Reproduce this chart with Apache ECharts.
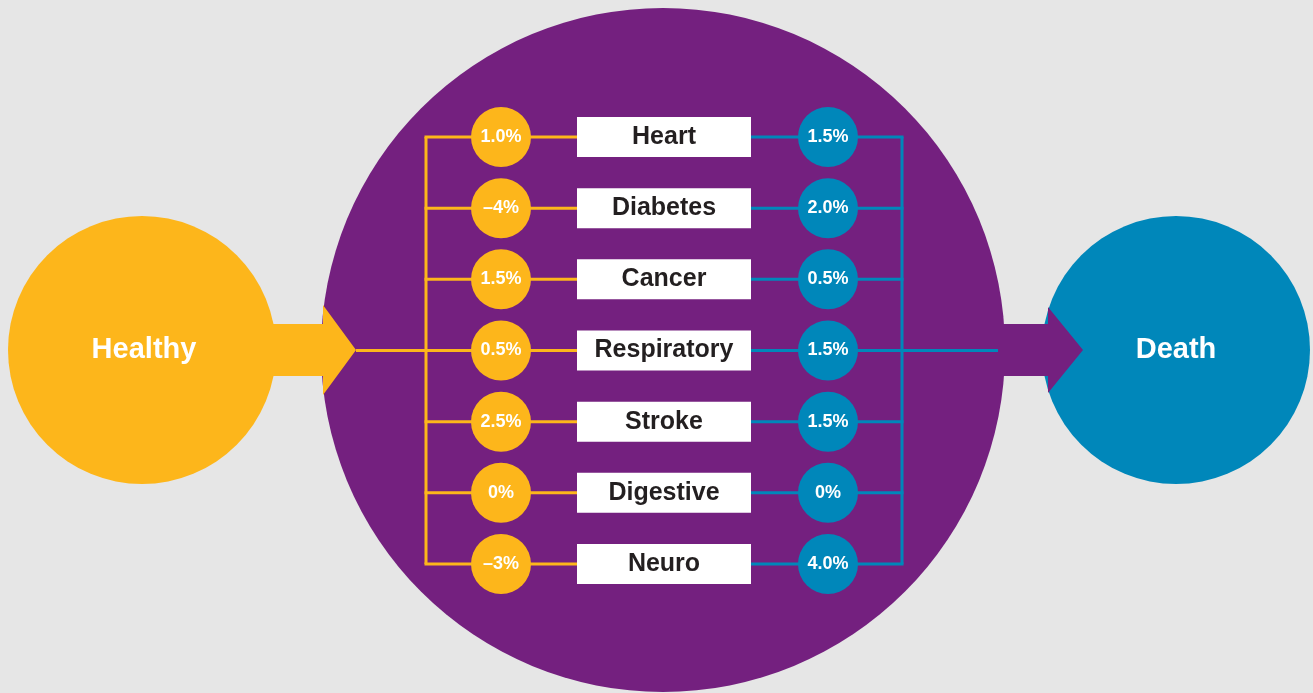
<!DOCTYPE html>
<html>
<head>
<meta charset="utf-8">
<style>
  html, body { margin: 0; padding: 0; background: #e6e6e6; }
  #chart { width: 1313px; height: 693px; }
</style>
<script src="https://cdn.jsdelivr.net/npm/echarts@6/dist/echarts.min.js"></script>
</head>
<body>
<div id="chart"></div>
<script>
// data
var causes = ['Heart', 'Diabetes', 'Cancer', 'Respiratory', 'Stroke', 'Digestive', 'Neuro'];
var healthyValues = [1.0, -4, 1.5, 0.5, 2.5, 0, -3];
var healthyText = ['1.0%', '–4%', '1.5%', '0.5%', '2.5%', '0%', '–3%'];
var deathValues = [1.5, 2.0, 0.5, 1.5, 1.5, 0, 4.0];
var deathText = ['1.5%', '2.0%', '0.5%', '1.5%', '1.5%', '0%', '4.0%'];

var YELLOW = '#fdb61b';
var PURPLE = '#74207f';
var BLUE = '#0087ba';
var DARK = '#231f20';
var FONT = '"Liberation Sans", Arial, sans-serif';

// column positions (layout)
var xYellowBus = 426, xYellowDot = 501, xBox = 664, xBlueDot = 828, xBlueBus = 902;
var boxLeft = 577, boxRight = 751;
var midRow = 3;

var chart = echarts.init(document.getElementById('chart'));

var option = {
  backgroundColor: '#e6e6e6',
  animation: false,
  grid: { left: 0, right: 0, top: 137, bottom: 129 },
  xAxis: { type: 'value', min: 0, max: 1313, show: false },
  yAxis: { type: 'category', data: causes, inverse: true, boundaryGap: false, show: false },
  graphic: [
    { type: 'circle', z: 0, shape: { cx: 663, cy: 350, r: 342 }, style: { fill: PURPLE } },
    { type: 'circle', z: 0, shape: { cx: 142, cy: 350, r: 134 }, style: { fill: YELLOW } },
    { type: 'circle', z: 0, shape: { cx: 1176, cy: 350, r: 134 }, style: { fill: BLUE } },
    { type: 'polygon', z: 1, shape: { points: [[268, 324], [323, 324], [323, 305], [356, 350], [323, 395], [323, 376], [268, 376]] }, style: { fill: YELLOW } },
    { type: 'polygon', z: 1, shape: { points: [[995, 324], [1048, 324], [1048, 307], [1083, 350], [1048, 393], [1048, 376], [995, 376]] }, style: { fill: PURPLE } },
    { type: 'text', z: 1, x: 144, y: 350, style: { text: 'Healthy', fill: '#fff', font: 'bold 29px ' + FONT, textAlign: 'center', textVerticalAlign: 'middle' } },
    { type: 'text', z: 1, x: 1176, y: 350, style: { text: 'Death', fill: '#fff', font: 'bold 29px ' + FONT, textAlign: 'center', textVerticalAlign: 'middle' } }
  ],
  series: [
    {
      type: 'line', z: 2, symbol: 'none', silent: true,
      data: [[xYellowBus, causes[0]], [xYellowBus, causes[causes.length - 1]]],
      lineStyle: { color: YELLOW, width: 3 }
    },
    {
      type: 'line', z: 2, symbol: 'none', silent: true,
      data: [[xBlueBus, causes[0]], [xBlueBus, causes[causes.length - 1]]],
      lineStyle: { color: BLUE, width: 3 }
    },
    {
      type: 'custom', z: 2, silent: true,
      data: causes.map(function (c, i) { return [0, i]; }),
      renderItem: function (params, api) {
        var i = api.value(1);
        var x0 = i === midRow ? 356 : xYellowBus - 1.5;
        var x1 = i === midRow ? 998 : xBlueBus + 1.5;
        var a = api.coord([x0, i]), b = api.coord([boxLeft, i]);
        var c = api.coord([boxRight, i]), d = api.coord([x1, i]);
        return {
          type: 'group',
          children: [
            { type: 'line', shape: { x1: a[0], y1: a[1], x2: b[0], y2: b[1] }, style: { stroke: YELLOW, lineWidth: 3 } },
            { type: 'line', shape: { x1: c[0], y1: c[1], x2: d[0], y2: d[1] }, style: { stroke: BLUE, lineWidth: 3 } }
          ]
        };
      }
    },
    {
      type: 'scatter', z: 3, symbol: 'rect', symbolSize: [174, 40], silent: true,
      data: causes.map(function (c) { return [xBox, c]; }),
      itemStyle: { color: '#fff', opacity: 1 },
      label: {
        show: true, position: 'inside', color: DARK, fontFamily: FONT, fontWeight: 'bold', fontSize: 25,
        formatter: function (p) { return causes[p.dataIndex]; }
      }
    },
    {
      type: 'scatter', z: 3, symbol: 'circle', symbolSize: 60, silent: true,
      data: causes.map(function (c, i) { return [xYellowDot, c, healthyValues[i]]; }),
      itemStyle: { color: YELLOW, opacity: 1 },
      label: {
        show: true, position: 'inside', color: '#fff', fontFamily: FONT, fontWeight: 'bold', fontSize: 18,
        formatter: function (p) { return healthyText[p.dataIndex]; }
      }
    },
    {
      type: 'scatter', z: 3, symbol: 'circle', symbolSize: 60, silent: true,
      data: causes.map(function (c, i) { return [xBlueDot, c, deathValues[i]]; }),
      itemStyle: { color: BLUE, opacity: 1 },
      label: {
        show: true, position: 'inside', color: '#fff', fontFamily: FONT, fontWeight: 'bold', fontSize: 18,
        formatter: function (p) { return deathText[p.dataIndex]; }
      }
    }
  ]
};

chart.setOption(option);
</script>
</body>
</html>
